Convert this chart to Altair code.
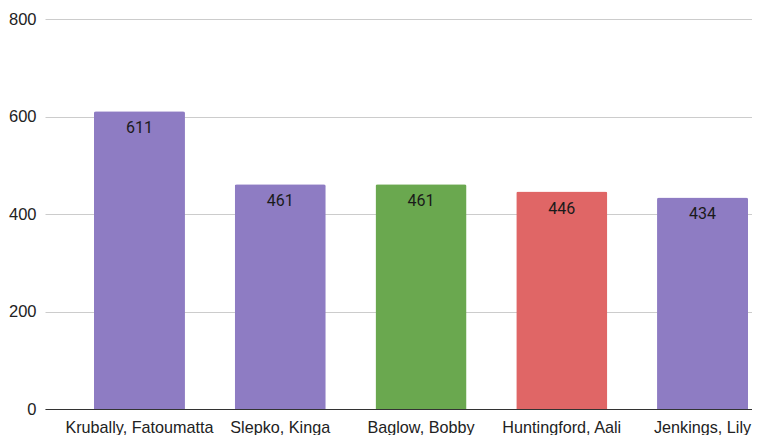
import altair as alt
import pandas as pd

names = ["Krubally, Fatoumatta", "Slepko, Kinga", "Baglow, Bobby", "Huntingford, Aali", "Jenkings, Lily"]
values = [611, 461, 461, 446, 434]
colors = ["#8e7cc3", "#8e7cc3", "#6aa84f", "#e06666", "#8e7cc3"]
y_ticks = [0, 200, 400, 600, 800]

df = pd.DataFrame({"name": names, "value": values, "color": colors})

x = alt.X("name:N", sort=names, title=None,
          scale=alt.Scale(paddingInner=0.3535, paddingOuter=0.188, align=0.925),
          axis=alt.Axis(labelAngle=0, labelFont="Liberation Sans", labelFontSize=16.2,
                        labelColor="#222222", ticks=False, domain=True, domainColor="#333333",
                        domainWidth=1.2, labelPadding=10, labelLimit=300))
y = alt.Y("value:Q", title=None,
          scale=alt.Scale(domain=[0, 800], nice=False),
          axis=alt.Axis(values=y_ticks, labelFont="Liberation Sans", labelFontSize=16.5,
                        labelColor="#222222", ticks=False, domain=False, gridColor="#cccccc",
                        labelPadding=9))

bars = alt.Chart(df).mark_bar(cornerRadiusTopLeft=2, cornerRadiusTopRight=2).encode(
    x=x, y=y, color=alt.Color("color:N", scale=None))

text = alt.Chart(df).mark_text(baseline="top", dy=9, font="Roboto", fontSize=16, color="#1a1a1a").encode(
    x=alt.X("name:N", sort=names), y="value:Q", text="value:Q")

chart = (bars + text).properties(
    width=707, height=390,
    autosize=alt.AutoSizeParams(type="none"),
    padding={"left": 37, "top": 11, "right": 0, "bottom": 26},
).configure_view(stroke=None)

chart.save("out.html", embed_options={"renderer": "svg", "actions": False})
